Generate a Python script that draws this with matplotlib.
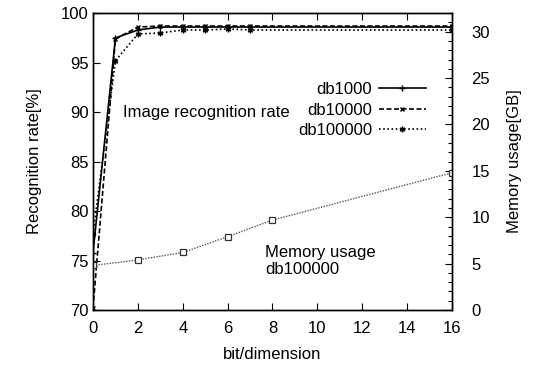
import numpy as np
import matplotlib
matplotlib.use("Agg")
import matplotlib.pyplot as plt
from matplotlib.ticker import MultipleLocator

plt.rcParams['font.family'] = ['Liberation Sans', 'DejaVu Sans']
plt.rcParams['font.size'] = 12

# recognition rate per bit/dimension
bits = [0, 1, 2, 3, 4, 5, 6, 7, 16]
db1000 = [75.8, 97.5, 98.3, 98.6, 98.6, 98.6, 98.6, 98.6, 98.6]
db10000 = [70.2, 97.4, 98.6, 98.7, 98.7, 98.7, 98.7, 98.7, 98.7]
db100000 = [77.7, 95.2, 97.9, 98.0, 98.3, 98.3, 98.4, 98.3, 98.3]

# memory usage for db100000
mem_bits = [0, 2, 4, 6, 8, 16]
mem_gb = [4.8, 5.4, 6.2, 7.9, 9.7, 14.8]

fig = plt.figure(figsize=(5.33, 3.66), dpi=100)
ax = fig.add_axes([0.1745, 0.153, 0.6735, 0.811])
ax2 = ax.twinx()

l1, = ax.plot(bits, db1000, color='black', lw=1.2, ls='-', marker='+', ms=4, mew=1)
l2, = ax.plot(bits, db10000, color='black', lw=1.2, ls=(0, (3, 1.5)), marker='x', ms=3.5, mew=1)
l3, = ax.plot(bits, db100000, color='black', lw=1.2, ls=(0, (1, 1.5)), marker=(6, 2, 0), ms=4, mew=1)

ax2.plot(mem_bits, mem_gb, color='#555555', lw=1, ls=(0, (1, 1)),
         marker='s', ms=4.5, mfc='white', mec='#333333', mew=0.9)

ax.set_xlim(0, 16)
ax.set_ylim(70, 100)
ax2.set_ylim(0, 32)
ax.xaxis.set_major_locator(MultipleLocator(2))
ax.yaxis.set_major_locator(MultipleLocator(5))
ax2.yaxis.set_major_locator(MultipleLocator(5))
ax2.yaxis.set_minor_locator(MultipleLocator(1))

ax.tick_params(axis='x', direction='in', top=True, length=5, width=0.8, pad=8)
ax.tick_params(axis='y', direction='in', length=5, width=0.8, pad=3)
ax2.tick_params(axis='y', which='major', direction='in', length=5, width=0.8, pad=14)
ax2.tick_params(axis='y', which='minor', direction='in', length=3, width=0.8)
for a in (ax, ax2):
    for s in a.spines.values():
        s.set_linewidth(1)

ax.set_xlabel('bit/dimension', labelpad=8)
ax.set_ylabel('Recognition rate[%]', labelpad=14)
ax2.set_ylabel('Memory usage[GB]', labelpad=12)

leg = ax.legend([l1, l2, l3], ['db1000', 'db10000', 'db100000'],
                loc='upper right', bbox_to_anchor=(0.945, 0.79), markerfirst=False,
                frameon=False, handlelength=2.8, handletextpad=0.4,
                labelspacing=0.32, borderaxespad=0)
ax.text(0.084, 0.667, 'Image recognition rate', transform=ax.transAxes, va='center')
ax.text(0.479, 0.165, 'Memory usage\ndb100000', transform=ax.transAxes,
        va='center', linespacing=1.15)

fig.savefig('out.png', dpi=100)
